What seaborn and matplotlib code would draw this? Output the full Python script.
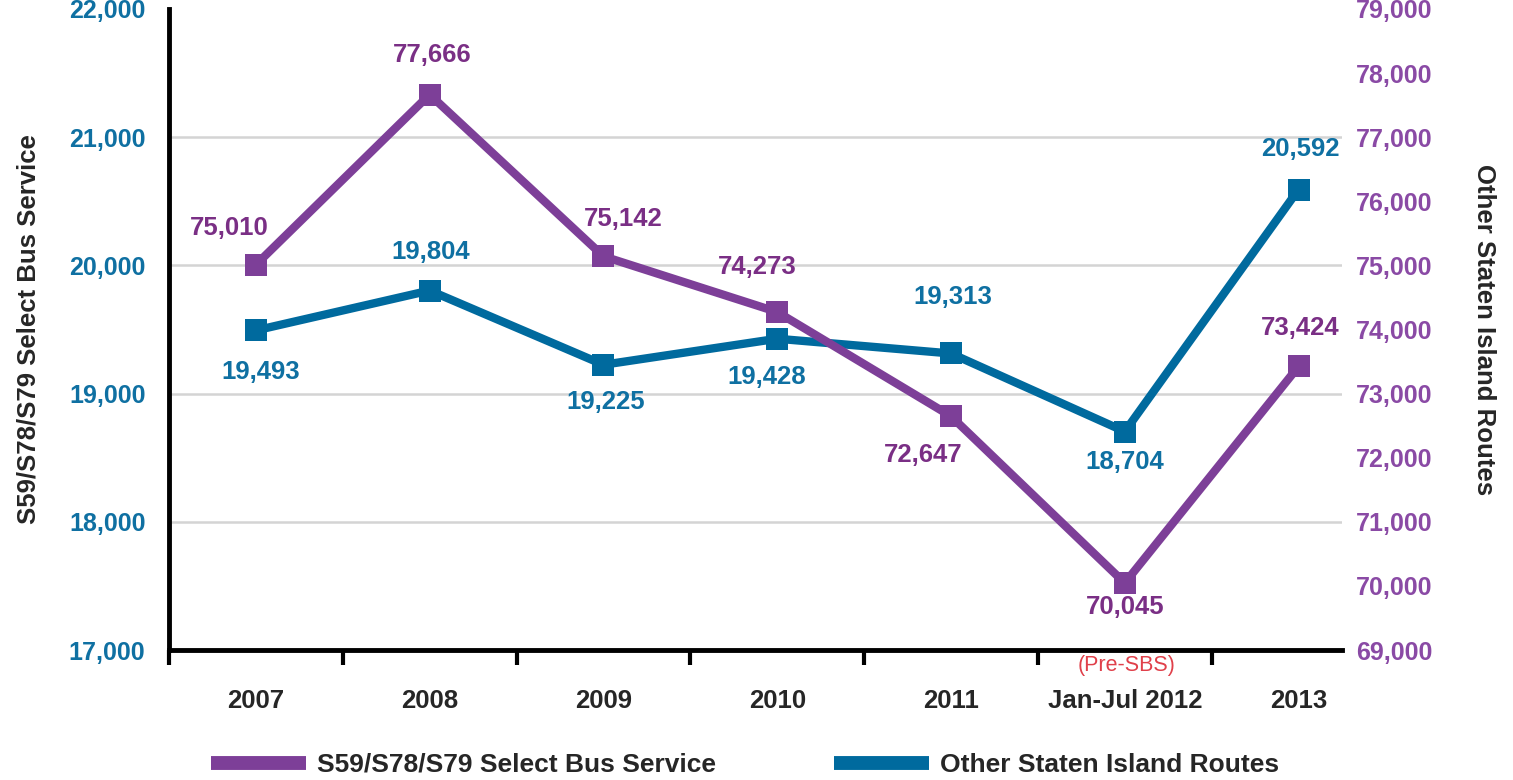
import numpy as np
import pandas as pd
import seaborn as sns
import matplotlib.pyplot as plt
from matplotlib.lines import Line2D
from matplotlib.ticker import FixedLocator, FuncFormatter

categories = ["2007", "2008", "2009", "2010", "2011", "Jan-Jul 2012", "2013"]
sbs_values = [75010, 77666, 75142, 74273, 72647, 70045, 73424]
other_values = [19493, 19804, 19225, 19428, 19313, 18704, 20592]

purple = "#7d3f98"
blue = "#006a9e"
purple_txt = "#7a2f85"
blue_txt = "#0f70a2"

sns.set_style("white")
plt.rcParams['font.family'] = ['Liberation Sans', 'DejaVu Sans']
narrow = ["Liberation Sans Narrow", "Liberation Sans", "DejaVu Sans"]

df = pd.DataFrame({"pos": np.arange(len(categories)),
                   "sbs": sbs_values, "other": other_values})

fig = plt.figure(figsize=(15.13, 7.8), dpi=100)
ax = fig.add_axes([169/1513, 1 - 650/780, (1342-169)/1513, (650-9)/780])
ax2 = ax.twinx()

sns.lineplot(data=df, x="pos", y="other", ax=ax, color=blue, lw=6, marker="s",
             markersize=16, markeredgewidth=0, sort=False, legend=False)
sns.lineplot(data=df, x="pos", y="sbs", ax=ax2, color=purple, lw=6, marker="s",
             markersize=16, markeredgewidth=0, sort=False, legend=False)

ax.set_xlim(-0.5, 6.25)
ax.set_ylim(17000, 22000)
ax2.set_ylim(69000, 79000)

fmt = FuncFormatter(lambda v, p: f"{int(v):,}")
ax.set_yticks(np.arange(17000, 22001, 1000))
ax.yaxis.set_major_formatter(fmt)
ax2.set_yticks(np.arange(69000, 79001, 1000))
ax2.yaxis.set_major_formatter(fmt)

ax.grid(axis="y", color="#d4d4d4", lw=1.8)
ax.set_axisbelow(True)
ax.yaxis.get_gridlines()[-1].set_visible(False)

for s in ["top", "right"]:
    ax.spines[s].set_visible(False)
for s in ["top", "right", "left", "bottom"]:
    ax2.spines[s].set_visible(False)
ax.spines["left"].set_color("black")
ax.spines["left"].set_linewidth(3.5)
ax.spines["bottom"].set_color("black")
ax.spines["bottom"].set_linewidth(3.5)

ax.tick_params(axis="y", length=0, pad=17, labelsize=18, labelcolor=blue_txt)
for t in ax.get_yticklabels():
    t.set_fontweight("bold")
ax2.tick_params(axis="y", length=0, pad=10, labelsize=18, labelcolor="#8a4aa5")
for t in ax2.get_yticklabels():
    t.set_fontweight("bold")

ax.set_xticks(df["pos"])
ax.set_xticklabels(categories, fontsize=18.5, fontweight="bold", family=narrow)
ax.tick_params(axis="x", which="major", length=0, pad=28)
ax.xaxis.set_minor_locator(FixedLocator(np.arange(-0.5, 6, 1)))
ax.tick_params(axis="x", which="minor", bottom=True, length=11, width=3,
               color="black", direction="out")

ax.set_xlabel("")
ax.set_ylabel("S59/S78/S79 Select Bus Service", fontsize=18.5, fontweight="bold", labelpad=20)
ax2.set_ylabel("Other Staten Island Routes", fontsize=18.5, fontweight="bold",
               rotation=-90, labelpad=46)

# data labels (offsets in pixels)
sbs_off = [(-27, 37), (3, 40), (20, 37), (-20, 45), (-28, -39), (0, -24), (2, 38)]
other_off = [(5, -42), (1, 39), (2, -37), (-11, -38), (2, 56), (0, -30), (2, 41)]
for i in range(len(categories)):
    ax2.annotate(f"{sbs_values[i]:,}", (df["pos"][i], sbs_values[i]),
                 xytext=sbs_off[i], textcoords="offset pixels", ha="center", va="center",
                 fontsize=18.5, fontweight="bold", color=purple_txt)
    ax.annotate(f"{other_values[i]:,}", (df["pos"][i], other_values[i]),
                xytext=other_off[i], textcoords="offset pixels", ha="center", va="center",
                fontsize=18.5, fontweight="bold", color=blue_txt)

fig.text(1127/1513, 1 - 665/780, "(Pre-SBS)", color="#e0404a", fontsize=15.5,
         ha="center", va="center", family=narrow)

handles = [Line2D([], [], color=purple, lw=10, solid_capstyle="butt"),
           Line2D([], [], color=blue, lw=10, solid_capstyle="butt")]
fig.legend(handles, ["S59/S78/S79 Select Bus Service", "Other Staten Island Routes"],
           loc="center", bbox_to_anchor=(745/1513, 1 - 765/780), ncol=2, frameon=False,
           handlelength=3.6, handletextpad=0.4, columnspacing=4.5,
           prop={"weight": "bold", "size": 19})

fig.savefig("out.png", dpi=100)
